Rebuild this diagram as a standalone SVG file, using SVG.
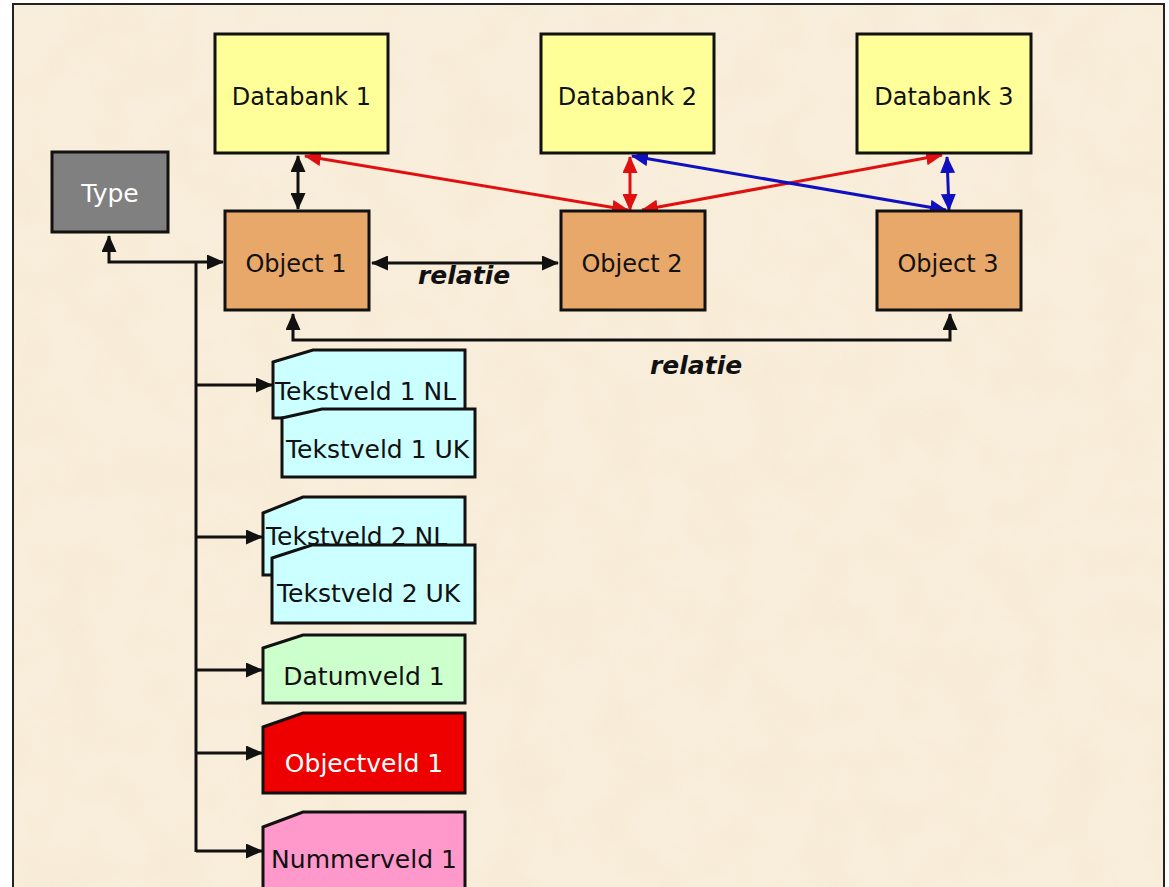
<svg xmlns="http://www.w3.org/2000/svg" width="1169" height="887" viewBox="0 0 1169 887">
<defs>
<style>
.box{stroke:#111;stroke-width:3}
.t{font-family:"DejaVu Sans","Liberation Sans",sans-serif;font-size:24px;fill:#111}
.f{font-family:"DejaVu Sans","Liberation Sans",sans-serif;font-size:25px;fill:#111}
.rel{font-family:"DejaVu Sans","Liberation Sans",sans-serif;font-size:25px;font-weight:bold;font-style:italic;fill:#111}
.k{stroke:#111;stroke-width:3;fill:none}
.r{stroke:#e01010;stroke-width:3;fill:none}
.b{stroke:#1010c0;stroke-width:3;fill:none}
</style>
<marker id="ak" markerUnits="userSpaceOnUse" markerWidth="17" markerHeight="15" refX="16" refY="7.5" orient="auto-start-reverse"><path d="M0,0 L17,7.5 L0,15 z" fill="#111"/></marker>
<marker id="ar" markerUnits="userSpaceOnUse" markerWidth="17" markerHeight="15" refX="16" refY="7.5" orient="auto-start-reverse"><path d="M0,0 L17,7.5 L0,15 z" fill="#e01010"/></marker>
<marker id="ab" markerUnits="userSpaceOnUse" markerWidth="17" markerHeight="15" refX="16" refY="7.5" orient="auto-start-reverse"><path d="M0,0 L17,7.5 L0,15 z" fill="#1010c0"/></marker>
<filter id="paper" x="0" y="0" width="100%" height="100%">
<feTurbulence type="fractalNoise" baseFrequency="0.02" numOctaves="3" seed="4"/>
<feColorMatrix type="matrix" values="0 0 0 0 0.85  0 0 0 0 0.75  0 0 0 0 0.55  0 0 0 1.2 -0.45"/>
</filter>
</defs>
<rect x="0" y="0" width="1169" height="887" fill="#ffffff"/>
<rect x="13" y="4" width="1151" height="900" fill="#f9eedb"/>
<rect x="13" y="4" width="1151" height="900" filter="url(#paper)" opacity="0.35"/>
<rect x="13" y="4" width="1151" height="900" fill="none" stroke="#222" stroke-width="2"/>

<g id="connectors">
<line class="k" x1="298" y1="156" x2="298" y2="209" marker-start="url(#ak)" marker-end="url(#ak)"/>
<line class="k" x1="372" y1="263" x2="558" y2="263" marker-start="url(#ak)" marker-end="url(#ak)"/>
<polyline class="k" points="109,236 109,262 223,262" marker-start="url(#ak)" marker-end="url(#ak)"/>
<polyline class="k" points="293,314 293,340 950,340 950,314" marker-start="url(#ak)" marker-end="url(#ak)"/>
<line class="k" x1="196" y1="262" x2="196" y2="852"/>
<line class="k" x1="196" y1="385" x2="272" y2="385" marker-end="url(#ak)"/>
<line class="k" x1="196" y1="537" x2="262" y2="537" marker-end="url(#ak)"/>
<line class="k" x1="196" y1="670" x2="262" y2="670" marker-end="url(#ak)"/>
<line class="k" x1="196" y1="753" x2="262" y2="753" marker-end="url(#ak)"/>
<line class="k" x1="196" y1="851" x2="262" y2="851" marker-end="url(#ak)"/>
<line class="r" x1="305" y1="156" x2="628" y2="210" marker-start="url(#ar)" marker-end="url(#ar)"/>
<line class="r" x1="630" y1="157" x2="630" y2="210" marker-start="url(#ar)" marker-end="url(#ar)"/>
<line class="r" x1="642" y1="210" x2="942" y2="155" marker-start="url(#ar)" marker-end="url(#ar)"/>
<line class="b" x1="632" y1="156" x2="946" y2="210" marker-start="url(#ab)" marker-end="url(#ab)"/>
<line class="b" x1="947" y1="157" x2="949" y2="210" marker-start="url(#ab)" marker-end="url(#ab)"/>
<text class="rel" x="418" y="284">relatie</text>
<text class="rel" x="650" y="374">relatie</text>
</g>

<g id="databank1"><rect class="box" x="215" y="34" width="173" height="119" fill="#ffff99"/><text class="t" x="301.5" y="105" text-anchor="middle">Databank 1</text></g>
<g id="databank2"><rect class="box" x="541" y="34" width="173" height="119" fill="#ffff99"/><text class="t" x="627.5" y="105" text-anchor="middle">Databank 2</text></g>
<g id="databank3"><rect class="box" x="857" y="34" width="174" height="119" fill="#ffff99"/><text class="t" x="944" y="105" text-anchor="middle">Databank 3</text></g>
<g id="type"><rect class="box" x="52" y="152" width="116" height="80" fill="#808080"/><text class="t" x="110" y="202" text-anchor="middle" style="fill:#fff;font-size:25px">Type</text></g>
<g id="object1"><rect class="box" x="225" y="211" width="144" height="99" fill="#e8a86a"/><text class="t" x="296" y="272" text-anchor="middle">Object 1</text></g>
<g id="object2"><rect class="box" x="561" y="211" width="144" height="99" fill="#e8a86a"/><text class="t" x="632" y="272" text-anchor="middle">Object 2</text></g>
<g id="object3"><rect class="box" x="877" y="211" width="144" height="99" fill="#e8a86a"/><text class="t" x="948" y="272" text-anchor="middle">Object 3</text></g>

<g id="tekstveld1nl"><path class="box" d="M273,362 L313,350 L465,350 L465,418 L273,418 z" fill="#ccffff"/><text class="f" x="275" y="400">Tekstveld 1 NL</text></g>
<g id="tekstveld1uk"><path class="box" d="M282,418 L322,409 L475,409 L475,477 L282,477 z" fill="#ccffff"/><text class="f" x="286" y="458">Tekstveld 1 UK</text></g>
<g id="tekstveld2nl"><path class="box" d="M263,513 L303,497 L465,497 L465,575 L263,575 z" fill="#ccffff"/><text class="f" x="266" y="545">Tekstveld 2 NL</text></g>
<g id="tekstveld2uk"><path class="box" d="M272,558 L312,545 L475,545 L475,623 L272,623 z" fill="#ccffff"/><text class="f" x="277" y="602">Tekstveld 2 UK</text></g>
<g id="datumveld1"><path class="box" d="M263,648 L303,635 L465,635 L465,703 L263,703 z" fill="#ccffcc"/><text class="f" x="364" y="685" text-anchor="middle">Datumveld 1</text></g>
<g id="objectveld1"><path class="box" d="M263,727 L303,713 L465,713 L465,793 L263,793 z" fill="#ee0000"/><text class="f" x="364" y="772" text-anchor="middle" style="fill:#fff">Objectveld 1</text></g>
<g id="nummerveld1"><path class="box" d="M263,827 L303,812 L465,812 L465,900 L263,900 z" fill="#ff99cc"/><text class="f" x="364" y="868" text-anchor="middle">Nummerveld 1</text></g>
</svg>
